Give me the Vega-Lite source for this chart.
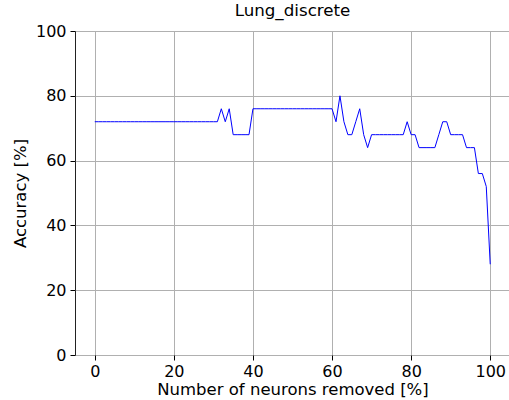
{
  "$schema": "https://vega.github.io/schema/vega-lite/v6.json",
  "autosize": {"type": "none"},
  "width": 435,
  "height": 324,
  "padding": {"left": 75, "top": 31, "right": 0, "bottom": 45},
  "background": "white",
  "title": {"text": "Lung_discrete", "font": "DejaVu Sans", "fontSize": 16.7, "fontWeight": "normal", "color": "black", "offset": 3, "anchor": "middle"},
  "config": {
    "view": {"stroke": "#222", "strokeWidth": 1},
    "axis": {
      "labelFont": "DejaVu Sans", "labelFontSize": 16, "labelColor": "black",
      "titleFont": "DejaVu Sans", "titleFontSize": 16.5, "titleFontWeight": "normal", "titleColor": "black",
      "gridColor": "#b0b0b0", "gridWidth": 1, "gridOpacity": 1,
      "tickColor": "black", "tickSize": 5, "tickWidth": 1,
      "domain": false, "labelPadding": 4
    },
    "axisX": {"labelPadding": 3}
  },
  "data": {"values": [
    {"x":0,"acc":72},{"x":1,"acc":72},{"x":2,"acc":72},{"x":3,"acc":72},{"x":4,"acc":72},{"x":5,"acc":72},{"x":6,"acc":72},{"x":7,"acc":72},{"x":8,"acc":72},{"x":9,"acc":72},
    {"x":10,"acc":72},{"x":11,"acc":72},{"x":12,"acc":72},{"x":13,"acc":72},{"x":14,"acc":72},{"x":15,"acc":72},{"x":16,"acc":72},{"x":17,"acc":72},{"x":18,"acc":72},{"x":19,"acc":72},
    {"x":20,"acc":72},{"x":21,"acc":72},{"x":22,"acc":72},{"x":23,"acc":72},{"x":24,"acc":72},{"x":25,"acc":72},{"x":26,"acc":72},{"x":27,"acc":72},{"x":28,"acc":72},{"x":29,"acc":72},
    {"x":30,"acc":72},{"x":31,"acc":72},{"x":32,"acc":76},{"x":33,"acc":72},{"x":34,"acc":76},{"x":35,"acc":68},{"x":36,"acc":68},{"x":37,"acc":68},{"x":38,"acc":68},{"x":39,"acc":68},
    {"x":40,"acc":76},{"x":41,"acc":76},{"x":42,"acc":76},{"x":43,"acc":76},{"x":44,"acc":76},{"x":45,"acc":76},{"x":46,"acc":76},{"x":47,"acc":76},{"x":48,"acc":76},{"x":49,"acc":76},
    {"x":50,"acc":76},{"x":51,"acc":76},{"x":52,"acc":76},{"x":53,"acc":76},{"x":54,"acc":76},{"x":55,"acc":76},{"x":56,"acc":76},{"x":57,"acc":76},{"x":58,"acc":76},{"x":59,"acc":76},
    {"x":60,"acc":76},{"x":61,"acc":72},{"x":62,"acc":80},{"x":63,"acc":72},{"x":64,"acc":68},{"x":65,"acc":68},{"x":66,"acc":72},{"x":67,"acc":76},{"x":68,"acc":68},{"x":69,"acc":64},
    {"x":70,"acc":68},{"x":71,"acc":68},{"x":72,"acc":68},{"x":73,"acc":68},{"x":74,"acc":68},{"x":75,"acc":68},{"x":76,"acc":68},{"x":77,"acc":68},{"x":78,"acc":68},{"x":79,"acc":72},
    {"x":80,"acc":68},{"x":81,"acc":68},{"x":82,"acc":64},{"x":83,"acc":64},{"x":84,"acc":64},{"x":85,"acc":64},{"x":86,"acc":64},{"x":87,"acc":68},{"x":88,"acc":72},{"x":89,"acc":72},
    {"x":90,"acc":68},{"x":91,"acc":68},{"x":92,"acc":68},{"x":93,"acc":68},{"x":94,"acc":64},{"x":95,"acc":64},{"x":96,"acc":64},{"x":97,"acc":56},{"x":98,"acc":56},{"x":99,"acc":52},
    {"x":100,"acc":28}
  ]},
  "mark": {"type": "line", "color": "#0000ff", "strokeWidth": 1, "clip": true},
  "encoding": {
    "x": {"field": "x", "type": "quantitative", "scale": {"domain": [-5, 105], "nice": false, "zero": false},
      "axis": {"values": [0, 20, 40, 60, 80, 100], "title": "Number of neurons removed [%]", "titlePadding": 2}},
    "y": {"field": "acc", "type": "quantitative", "scale": {"domain": [0, 100], "nice": false},
      "axis": {"values": [0, 20, 40, 60, 80, 100], "title": "Accuracy [%]", "titlePadding": 7}}
  }
}
